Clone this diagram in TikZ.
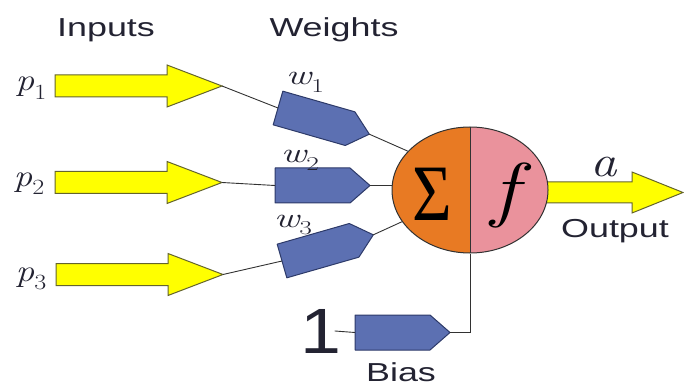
\documentclass[tikz,border=0pt]{standalone}
\usepackage{fontspec}
\setmainfont{Liberation Sans}
\newfontfamily\sigmafont{Liberation Serif}
\newfontfamily\lmr{Latin Modern Roman}
\usepackage{graphicx}
\usetikzlibrary{shapes.geometric}
\definecolor{arrowyellow}{RGB}{255,255,0}
\definecolor{arrowedge}{RGB}{100,100,45}
\definecolor{blockblue}{RGB}{92,112,178}
\definecolor{blockedge}{RGB}{45,58,105}
\definecolor{sumorange}{RGB}{232,122,35}
\definecolor{actpink}{RGB}{234,146,156}
\definecolor{wire}{RGB}{50,50,50}
\definecolor{txt}{RGB}{35,35,50}
\newcommand{\hs}[1]{\scalebox{1.38}[1]{#1}}
\newcommand{\vsub}[2]{{\lmr\itshape #1}\raisebox{-0.28em}{\scalebox{0.7}{\lmr #2}}}
\tikzset{
  yarrowstyle/.style={fill=arrowyellow, draw=arrowedge, line width=1pt, line join=miter},
  wblock/.style={fill=blockblue, draw=blockedge, line width=1pt, line join=round},
  conn/.style={draw=wire, line width=0.9pt},
  lbl/.style={inner sep=0pt, text=txt, font=\fontsize{26}{30}\selectfont},
  mlbl/.style={inner sep=0pt, text=txt, font=\fontsize{28}{32}\selectfont},
  plbl/.style={inner sep=0pt, text=txt, font=\fontsize{31}{34}\selectfont},
  yarrow/.pic={
    \path[yarrowstyle] (0,-11) -- (112,-11) -- (112,-21) -- (167,0) -- (112,21) -- (112,11) -- (0,11) -- cycle;
    \coordinate (-tip) at (167,0);
  },
  wgt/.pic={
    \path[wblock] (0,-17.5) -- (75,-17.5) -- (95,0) -- (75,17.5) -- (0,17.5) -- cycle;
    \coordinate (-in) at (0,0);
    \coordinate (-out) at (95,0);
  }
}
\begin{document}
\begin{tikzpicture}[x=1pt,y=-1pt]
\useasboundingbox (0,0) rectangle (684,387);

% headings
\node[lbl, anchor=base] (inputs) at (106,37) {\hs{Inputs}};
\node[lbl, anchor=base] (weights) at (334,37) {\hs{Weights}};

% input arrows
\pic (a1) at (55,86) {yarrow};
\pic (a2) at (55,182.5) {yarrow};
\pic (a3) at (56,274.5) {yarrow};

\node[plbl, anchor=base] (p1) at (31,91) {\scalebox{1.2}[1]{\vsub{p}{1}}};
\node[plbl, anchor=base] (p2) at (29,186) {\scalebox{1.2}[1]{\vsub{p}{2}}};
\node[plbl, anchor=base] (p3) at (31,281) {\scalebox{1.2}[1]{\vsub{p}{3}}};

% output arrow (drawn under the neuron)
\path[yarrowstyle] (540,182) -- (632,182) -- (632,172) -- (683,192.5) -- (632,213) -- (632,203) -- (540,203) -- cycle;

% neuron
\node[ellipse, minimum width=156pt, minimum height=126pt, inner sep=0pt,
      path picture={
        \fill[sumorange] (path picture bounding box.south west) rectangle (path picture bounding box.north);
        \fill[actpink] (path picture bounding box.north) rectangle (path picture bounding box.south east);
        \draw[wire, line width=1pt] (path picture bounding box.north) -- (path picture bounding box.south);
      }, draw=wire, line width=1pt] (n) at (470,190) {};
\node[anchor=base, inner sep=0pt, font=\sigmafont\fontsize{80}{84}\selectfont] (sig) at (432,220) {\scalebox{0.85}[1]{Σ}};
\node[inner sep=0pt, font=\lmr\itshape\fontsize{72}{76}\selectfont] (fn) at (505,195) {\scalebox{1.25}[1]{f}};

% weights
\pic[rotate=-16] (w1) at (278,108) {wgt};
\pic (w2) at (275,185.5) {wgt};
\pic[rotate=16] (w3) at (282,261) {wgt};
\pic (wb) at (355,332.5) {wgt};

\node[mlbl, anchor=base] (w1l) at (305,85) {\scalebox{1.4}[1]{\vsub{w}{1}}};
\node[mlbl, anchor=base] (w2l) at (300,163) {\scalebox{1.4}[1]{\vsub{w}{2}}};
\node[mlbl, anchor=base] (w3l) at (293,227) {\scalebox{1.4}[1]{\vsub{w}{3}}};

% connectors
\draw[conn] (a1-tip) -- (w1-in);
\draw[conn] (a2-tip) -- (w2-in);
\draw[conn] (a3-tip) -- (w3-in);
\draw[conn] (w1-out) -- (n.148);
\draw[conn] (w2-out) -- (w2-out -| n.west);
\draw[conn] (w3-out) -- (n.205);

% bias
\node[anchor=base, inner sep=0pt, text=txt, font=\fontsize{64}{70}\selectfont] (one) at (321,353) {\scalebox{1.15}[1]{1}};
\draw[conn] ([xshift=-7pt]one.east) -- (wb-in);
\draw[conn] (n.south) |- (wb-out);
\node[lbl, anchor=base] (bias) at (401,381) {\hs{Bias}};

% output labels
\node[anchor=base, inner sep=0pt, text=txt, font=\lmr\itshape\fontsize{44}{48}\selectfont] (alab) at (604,177) {\scalebox{1.2}[1]{a}};
\node[lbl, anchor=base] (output) at (615,237) {\hs{Output}};
\end{tikzpicture}
\end{document}
